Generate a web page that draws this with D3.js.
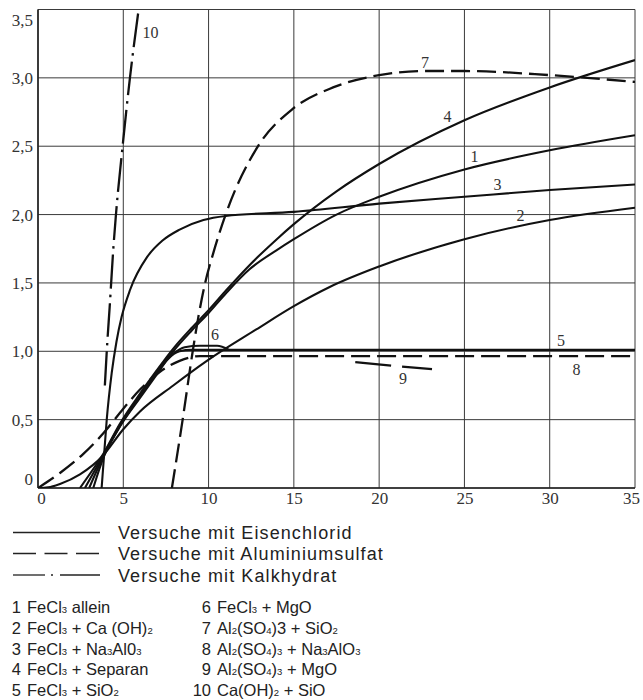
<!DOCTYPE html>
<html>
<head>
<meta charset="utf-8">
<script src="https://cdn.jsdelivr.net/npm/d3@7"></script>
<style>
  html, body { margin: 0; padding: 0; background: #fff; }
  svg { display: block; }
  text { white-space: pre; }
  .serif { font-family: "Liberation Serif", "DejaVu Serif", "Times New Roman", serif !important; }
  .sans { font-family: "Liberation Sans", Arial, Helvetica, sans-serif; }
</style>
</head>
<body>
<svg id="chart" width="643" height="700"></svg>
<script>
// ---------------- DATA ----------------
const xTicks = [0, 5, 10, 15, 20, 25, 30, 35];
const xTickLabels = ["0", "5", "10", "15", "20", "25", "30", "35"];
const yTicks = [0, 0.5, 1.0, 1.5, 2.0, 2.5, 3.0, 3.5];
const yTickLabels = ["0", "0,5", "1,0", "1,5", "2,0", "2,5", "3,0", "3,5"];

// curve 1 FeCl3 allein
const series1 = [[2.75,0],[3.83,0.24],[4.8,0.46],[5.98,0.67],[6.96,0.84],[7.93,1.0],[9,1.15],[10,1.28],[11.06,1.43],[12.4,1.6],[14,1.74],[15,1.82],[17.5,2.0],[20,2.13],[25,2.33],[30,2.47],[35,2.58]];
// curve 2 FeCl3 + Ca(OH)2
const series2 = [[0,0],[0.6,0.005],[1.29,0.03],[2.46,0.10],[3.83,0.24],[5.0,0.43],[5.98,0.56],[7.93,0.75],[9.9,0.93],[12.8,1.16],[15,1.33],[17.1,1.47],[20,1.62],[25,1.82],[30,1.96],[35,2.05]];
// curve 3 FeCl3 + Na3AlO3
const series3 = [[3.73,0],[3.85,0.2],[4.03,0.5],[4.32,0.84],[4.6,1.07],[4.9,1.25],[5.4,1.45],[6.4,1.69],[7.3,1.81],[8.3,1.89],[9.7,1.96],[11,1.99],[15,2.02],[20,2.08],[25,2.13],[30,2.18],[35,2.22]];
// curve 4 FeCl3 + Separan
const series4 = [[2.46,0],[3.3,0.15],[3.83,0.25],[4.8,0.47],[5.98,0.69],[6.96,0.86],[7.93,1.02],[9,1.17],[10,1.30],[11.06,1.45],[12.4,1.63],[14,1.82],[15,1.93],[17.5,2.17],[20,2.37],[25,2.69],[30,2.93],[35,3.13]];
// curve 5 FeCl3 + SiO2
const series5 = [[3.0,0],[3.83,0.23],[4.8,0.45],[5.98,0.66],[6.96,0.83],[7.6,0.94],[8.3,1.0],[9,1.01],[10,1.01],[15,1.01],[25,1.01],[35,1.01]];
// curve 6 FeCl3 + MgO
const series6 = [[3.24,0],[3.83,0.22],[4.8,0.45],[5.98,0.67],[6.96,0.85],[7.9,0.98],[8.6,1.03],[9.5,1.04],[10.5,1.04],[11.2,1.01]];
// curve 7 Al2(SO4)3 + SiO2
const series7 = [[7.85,0],[8.48,0.5],[9.07,1.0],[9.4,1.25],[9.8,1.5],[10.28,1.72],[11.03,2.01],[12.9,2.5],[14.9,2.77],[17.3,2.93],[20,3.02],[22.6,3.05],[25,3.05],[30,3.02],[35,2.97]];
// curve 8 Al2(SO4)3 + Na3AlO3
const series8 = [[0,0],[1.29,0.11],[2.66,0.25],[3.83,0.40],[5.0,0.58],[5.98,0.72],[7.15,0.85],[8.3,0.93],[9.5,0.965],[10.5,0.965],[15,0.965],[25,0.965],[35,0.965]];
// curve 9 Al2(SO4)3 + MgO
const series9 = [[18.6,0.92],[21.2,0.89],[23.1,0.87]];
// curve 10 Ca(OH)2 + SiO
const series10 = [[3.92,0.75],[4.06,1.06],[4.2,1.32],[4.41,1.74],[4.57,2.0],[4.96,2.5],[5.39,3.0],[5.9,3.5]];

const seriesNames = ["1","2","3","4","5","6","7","8","9","10"];
const seriesKinds = ["solid","solid","solid","solid","solid","solid","dashed","dashed","dashed9","dashdot"];
// curve number labels (data coordinates)
const labelX = [25.59, 28.29, 26.94, 24.01, 30.66, 10.38, 22.69, 31.57, 21.40, 6.6];
const labelY = [2.425, 1.997, 2.220, 2.721, 1.083, 1.123, 3.113, 0.870, 0.805, 3.332];

const legendLabels = ["Versuche mit Eisenchlorid", "Versuche mit Aluminiumsulfat", "Versuche mit Kalkhydrat"];
const legendKinds = ["solid", "dashed", "dashdot"];

const itemNumbers = ["1","2","3","4","5","6","7","8","9","10"];
const itemTexts = [
  "FeCl_3 allein",
  "FeCl_3 + Ca (OH)_2",
  "FeCl_3 + Na_3Al0_3",
  "FeCl_3 + Separan",
  "FeCl_3 + SiO_2",
  "FeCl_3 + MgO",
  "Al_2(SO_4)3 + SiO_2",
  "Al_2(SO_4)_3 + Na_3AlO_3",
  "Al_2(SO_4)_3 + MgO",
  "Ca(OH)_2 + SiO"
];

// ---------------- DRAW ----------------
const allSeries = [series1,series2,series3,series4,series5,series6,series7,series8,series9,series10];
const svg = d3.select("#chart");
const L = 38, R = 635, T = 9.5, B = 488;
const x = d3.scaleLinear().domain([0, 35]).range([L, R]);
const y = d3.scaleLinear().domain([0, 3.5]).range([B, T]);

// grid
const grid = svg.append("g");
grid.selectAll("line.v").data(xTicks).join("line")
  .attr("x1", d => x(d)).attr("x2", d => x(d))
  .attr("y1", T).attr("y2", B)
  .attr("stroke", "#3a3a3a").attr("stroke-width", 1);
grid.selectAll("line.h").data(yTicks).join("line")
  .attr("x1", L).attr("x2", R)
  .attr("y1", d => y(d)).attr("y2", d => y(d))
  .attr("stroke", "#3a3a3a").attr("stroke-width", 1);
svg.append("line").attr("x1", L).attr("x2", R).attr("y1", B).attr("y2", B)
  .attr("stroke", "#222").attr("stroke-width", 1.6);
svg.append("line").attr("x1", L).attr("x2", L).attr("y1", T).attr("y2", B)
  .attr("stroke", "#222").attr("stroke-width", 1.6);

// axes via d3 axis generators (tick labels only)
const xAxis = d3.axisBottom(x).tickValues(xTicks).tickSize(0).tickPadding(0)
  .tickFormat((d, i) => xTickLabels[i]);
const gx = svg.append("g").attr("transform", `translate(0,${B})`).call(xAxis)
  .attr("font-family", null);
gx.select(".domain").remove();
gx.selectAll("text").attr("class", "serif").attr("font-size", 17)
  .attr("fill", "#333").attr("dy", null).attr("y", 16)
  .attr("dx", (d, i) => i === 0 ? 3 : (i === xTicks.length - 1 ? -4 : 0));

const yAxis = d3.axisLeft(y).tickValues(yTicks).tickSize(0).tickPadding(0)
  .tickFormat((d, i) => yTickLabels[i]);
const gy = svg.append("g").attr("transform", `translate(${L - 4},0)`).call(yAxis)
  .attr("font-family", null);
gy.select(".domain").remove();
gy.selectAll("text").attr("class", "serif").attr("font-size", 17)
  .attr("fill", "#333").attr("x", -1)
  .attr("dy", (d, i) => i === 0 ? "-0.2em" : (i === yTicks.length - 1 ? "0.95em" : "0.33em"));

// curves
const line = d3.line().x(d => x(d[0])).y(d => y(d[1])).curve(d3.curveMonotoneX);
const dashFor = k => k === "dashed" ? "19,7" : k === "dashed9" ? "36,11" : k === "dashdot" ? "34,6,2.5,6" : null;
svg.append("defs").append("clipPath").attr("id", "clip")
  .append("rect").attr("x", L).attr("y", T - 1).attr("width", R - L).attr("height", B - T + 1);
svg.append("g").attr("clip-path", "url(#clip)")
  .selectAll("path").data(allSeries).join("path")
  .attr("d", d => line(d))
  .attr("fill", "none").attr("stroke", "#111")
  .attr("stroke-width", (d, i) => seriesKinds[i] === "solid" ? 2.1 : 2.3)
  .attr("stroke-dasharray", (d, i) => dashFor(seriesKinds[i]))
  .attr("stroke-linecap", "butt");

// curve labels
svg.append("g").selectAll("text").data(seriesNames).join("text")
  .attr("class", "serif")
  .attr("x", (d, i) => x(labelX[i])).attr("y", (d, i) => y(labelY[i]))
  .attr("dy", "0.35em").attr("text-anchor", "middle")
  .attr("font-size", 16).attr("fill", "#333")
  .text(d => d);

// legend (line styles)
const legRowY = [532.5, 553.5, 575];
const lg = svg.append("g");
legendLabels.forEach((lab, i) => {
  const k = legendKinds[i];
  if (k === "dashdot") {
    lg.append("line").attr("x1", 13).attr("x2", 45).attr("y1", legRowY[i]).attr("y2", legRowY[i])
      .attr("stroke", "#222").attr("stroke-width", 1.3);
    lg.append("circle").attr("cx", 52).attr("cy", legRowY[i]).attr("r", 1).attr("fill", "#222");
    lg.append("line").attr("x1", 60).attr("x2", 100).attr("y1", legRowY[i]).attr("y2", legRowY[i])
      .attr("stroke", "#222").attr("stroke-width", 1.3);
  } else {
    lg.append("line").attr("x1", 13).attr("x2", 100).attr("y1", legRowY[i]).attr("y2", legRowY[i])
      .attr("stroke", "#222").attr("stroke-width", 1.3)
      .attr("stroke-dasharray", k === "dashed" ? "23,8.5" : null);
  }
  lg.append("text").attr("class", "sans").attr("x", 118).attr("y", legRowY[i] + 6.5)
    .attr("font-size", 18).attr("letter-spacing", 1.1)
    .attr("fill", "#222").text(lab);
});

// numbered items
const itemRowY = [612.5, 633.5, 654.5, 675, 695.5];
function addRich(sel, str) {
  str.split(/(_\d)/).filter(s => s.length).forEach(part => {
    if (part[0] === "_") {
      sel.append("tspan").attr("font-size", 9.5).text(part.slice(1));
    } else {
      sel.append("tspan").attr("font-size", 16.5).text(part);
    }
  });
}
itemNumbers.forEach((num, i) => {
  const col = i < 5 ? 0 : 1;
  const row = i % 5;
  const nx = col === 0 ? 21 : 211;
  svg.append("text").attr("class", "sans").attr("x", nx).attr("y", itemRowY[row]).attr("text-anchor", "end")
    .attr("font-size", 16.5).attr("fill", "#222").text(num);
  const t = svg.append("text").attr("class", "sans").attr("x", nx + 6).attr("y", itemRowY[row])
    .attr("fill", "#222").attr("xml:space", "preserve");
  addRich(t, itemTexts[i]);
});
</script>
</body>
</html>
